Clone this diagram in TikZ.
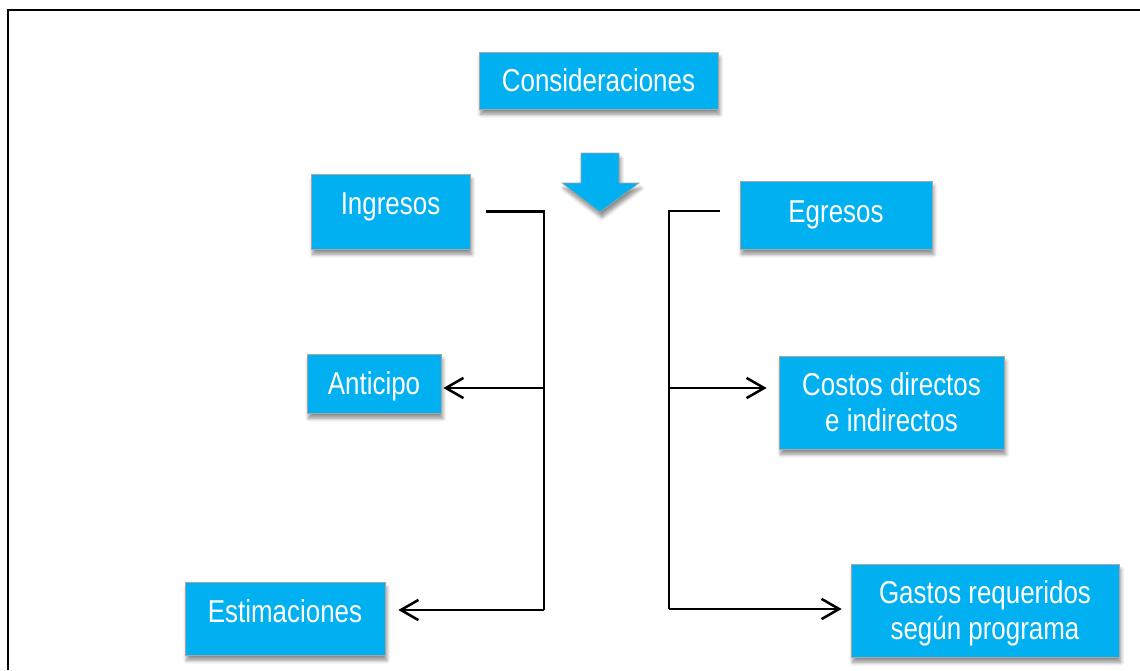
\documentclass[tikz,border=0pt]{standalone}
\usepackage{fontspec}
\setmainfont{Liberation Sans}[FakeStretch=0.82]
\usetikzlibrary{arrows.meta,shadows,shadows.blur}
\definecolor{azulcaja}{RGB}{0,176,240}
\definecolor{bordecaja}{RGB}{166,166,166}

\begin{document}
\begin{tikzpicture}[x=0.02cm,y=-0.02cm,
    sombra/.style={blur shadow={shadow xshift=1pt,shadow yshift=-3pt,shadow blur steps=6,shadow opacity=45}},
    caja/.style={draw=bordecaja,fill=azulcaja,text=white,align=center,inner sep=0pt,
      font=\fontsize{18}{20.5}\selectfont,sombra},
    caja1/.style={caja,text height=13pt,text depth=#1},
    caja1/.default=0pt,
    linea/.style={line width=1.45pt},
    flecha/.style={linea,-{Straight Barb[length=10pt,width=11.5pt]}}]
    \useasboundingbox (0,0) rectangle (1140,670);
    \draw[line width=0.8pt] (8,670) -- (8,10) -- (1140,10);

    % cajas
    \node[caja1,minimum width=4.78cm,minimum height=1.14cm] (consid) at (598.5,80.5) {Consideraciones};
    \node[caja1=9.5pt,minimum width=3.18cm,minimum height=1.5cm] (ingr) at (390.5,211.5) {Ingresos};
    \node[caja1=4.6pt,minimum width=3.84cm,minimum height=1.36cm] (egr) at (836,215) {Egresos};
    \node[caja1,minimum width=2.68cm,minimum height=1.18cm] (antic) at (374,383.5) {Anticipo};
    \node[caja,minimum width=4.5cm,minimum height=1.86cm] (costos) at (891.5,402.5) {Costos directos\\e indirectos};
    \node[caja1=9pt,minimum width=4cm,minimum height=1.46cm] (estim) at (285,618.5) {Estimaciones};
    \node[caja,text height=37pt,minimum width=5.36cm,minimum height=1.86cm] (gastos) at (985,610.5) {Gastos requeridos\\según programa};

    % flecha gruesa
    \filldraw[draw=bordecaja,fill=azulcaja,line width=0.3pt,sombra]
      (581,153) -- (619,153) -- (619,183) -- (639,183) -- (600,212) -- (562,183) -- (581,183) -- cycle;

    % conectores
    \coordinate (izqMed) at (544,388);
    \coordinate (izqAba) at (544,610);
    \coordinate (derArr) at (669,211);
    \coordinate (derMed) at (669,388);
    \coordinate (derAba) at (669,609);
    \draw[linea] ([xshift=0.32cm]ingr.east) -| (izqAba);
    \draw[flecha] (izqMed) -- ([xshift=0.04cm]antic.east |- izqMed);
    \draw[flecha] (izqAba) -- ([xshift=0.26cm]estim.east |- izqAba);
    \draw[linea] ([xshift=-0.4cm]egr.west |- derArr) -- (derArr) -- (derAba);
    \draw[flecha] (derMed) -- ([xshift=-0.24cm]costos.west |- derMed);
    \draw[flecha] (derAba) -- ([xshift=-0.18cm]gastos.west |- derAba);
\end{tikzpicture}
\end{document}
